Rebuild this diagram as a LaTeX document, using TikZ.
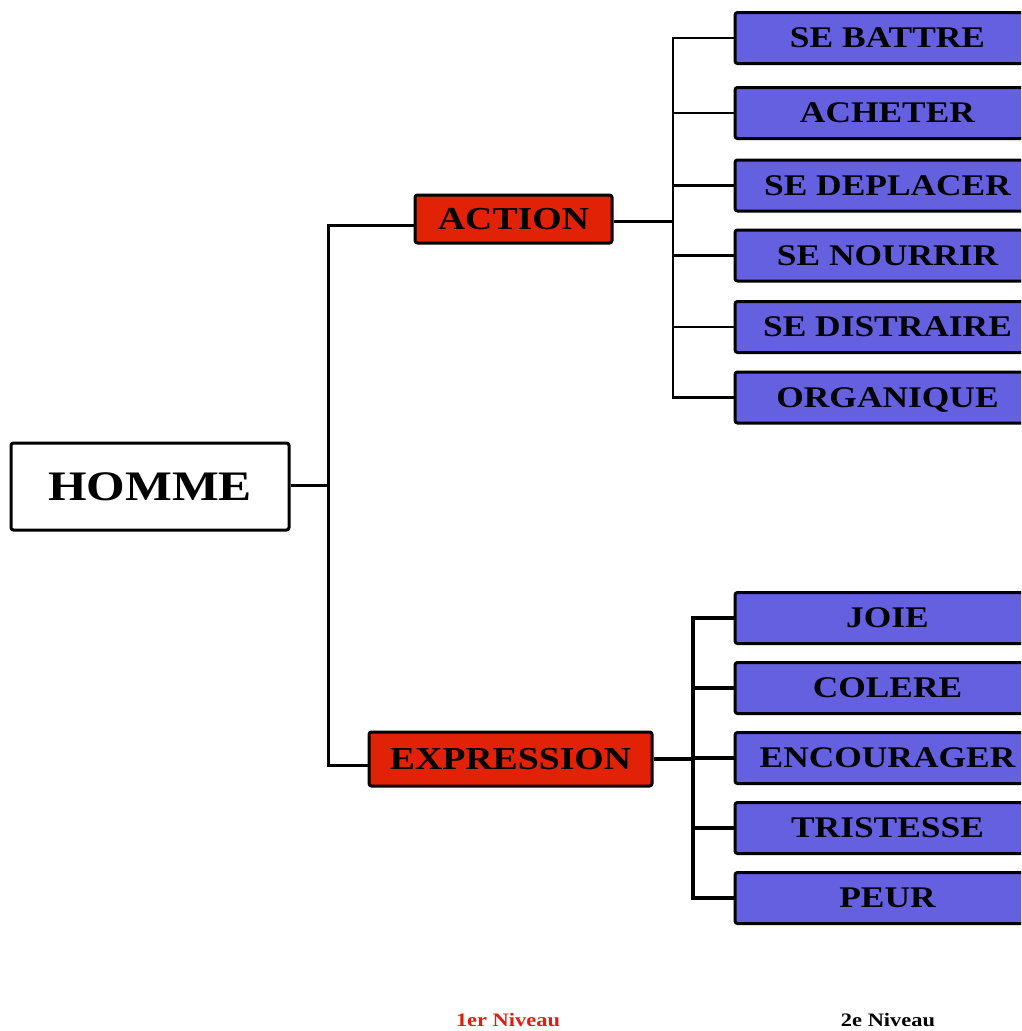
\documentclass[tikz,border=0pt]{standalone}
\usepackage{fontspec}
\setmainfont{Liberation Serif}[FakeStretch=1.18]
\begin{document}
\definecolor{boxred}{RGB}{226,34,6}
\definecolor{boxblue}{RGB}{101,96,224}
\definecolor{labelred}{RGB}{222,30,16}
\begin{tikzpicture}[x=1pt,y=-1pt,
  box/.style={draw=black, line width=3pt, rounded corners=2.5pt, inner sep=0pt,
    text depth=0pt, align=center},
  rootbox/.style={box, fill=white, minimum width=278pt, minimum height=87pt,
    font=\fontsize{42}{44}\selectfont\bfseries, text height=27.8pt},
  levelone/.style={box, fill=boxred, minimum height=50pt,
    font=\fontsize{32}{34}\selectfont\bfseries, text height=21.2pt},
  leveltwo/.style={box, fill=boxblue, minimum width=305pt, minimum height=51pt,
    font=\fontsize{30}{32}\selectfont\bfseries, text height=19.9pt},
  wire/.style={draw=black, line width=3pt},
  thinwire/.style={draw=black, line width=2.4pt},
  thickwire/.style={draw=black, line width=3.8pt},
  caption/.style={font=\fontsize{19}{21}\selectfont\bfseries, anchor=base, inner sep=0pt}
]
\clip (0,0) rectangle (1021,1031);
\fill[white] (0,0) rectangle (1021,1031);

% root and first level
\node[rootbox] (homme) at (150,486.5) {HOMME};
\node[levelone, minimum width=197pt, minimum height=48pt] (action) at (513.5,219) {ACTION};
\node[levelone, minimum width=283pt, minimum height=54pt] (expression) at (510.5,759) {EXPRESSION};

\coordinate (trunk) at (328,485);
\draw[wire] ([yshift=-6pt]action.west) -| (trunk) |- ([yshift=-6pt]expression.west);
\draw[wire] (homme.east |- trunk) -- (trunk);

% second level: action
\node[leveltwo] (battre) at (887.5,38) {SE BATTRE};
\node[leveltwo] (acheter) at (887.5,113) {ACHETER};
\node[leveltwo] (deplacer) at (887.5,185.5) {SE DEPLACER};
\node[leveltwo] (nourrir) at (887.5,255.5) {SE NOURRIR};
\node[leveltwo] (distraire) at (887.5,327) {SE DISTRAIRE};
\node[leveltwo] (organique) at (887.5,397.5) {ORGANIQUE};

\coordinate (busA) at (673,221.5);
\draw[thinwire] (action.east |- busA) -- (busA);
\draw[thinwire] (battre.west) -| (busA) |- (organique.west);
\foreach \n in {acheter,deplacer,nourrir,distraire}
  \draw[thinwire] (\n.west) -- (\n.west -| busA);

% second level: expression
\node[leveltwo] (joie) at (887.5,618) {JOIE};
\node[leveltwo] (colere) at (887.5,688) {COLERE};
\node[leveltwo] (encourager) at (887.5,758) {ENCOURAGER};
\node[leveltwo] (tristesse) at (887.5,828) {TRISTESSE};
\node[leveltwo] (peur) at (887.5,898) {PEUR};

\coordinate (busE) at (693,759);
\draw[thickwire] (expression.east) -- (busE);
\draw[thickwire] (joie.west) -| (busE) |- (peur.west);
\foreach \n in {colere,encourager,tristesse}
  \draw[thickwire] (\n.west) -- (\n.west -| busE);

% level captions
\node[caption, text=labelred] (niv1) at (508,1026.5) {1er Niveau};
\node[caption, text=black] (niv2) at (888,1026.5) {2e Niveau};
\end{tikzpicture}
\end{document}
